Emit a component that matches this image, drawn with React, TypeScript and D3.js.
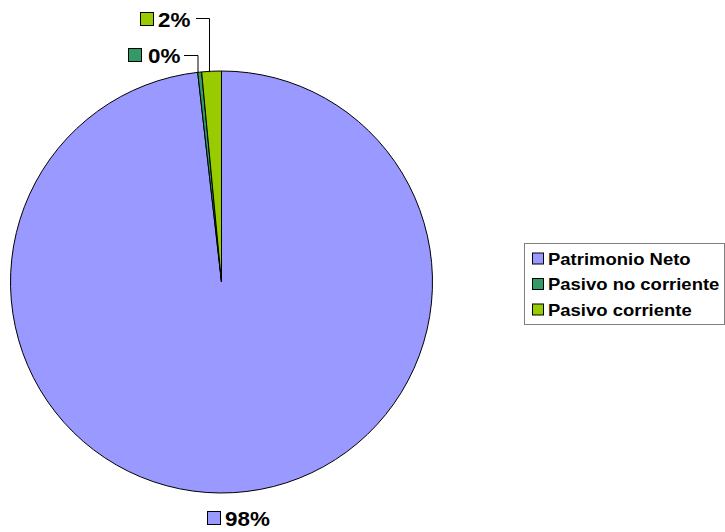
import React from 'react';
import * as d3 from 'd3';

const categories = ['Patrimonio Neto', 'Pasivo no corriente', 'Pasivo corriente'];
const values = [98.2, 0.3, 1.5];
const labels = ['98%', '0%', '2%'];
const colors = ['#9999FF', '#339966', '#99CC00'];

const W = 725;
const H = 532;
const cx = 221.5;
const cy = 282;
const R = 211;

// where each data label sits (swatch top-left), plus its leader line
const labelPos = [
  { x: 207, y: 511, gap: 4, line: null as null | number[][] },
  { x: 128, y: 48, gap: 6, line: [[184, 55.5], [198, 55.5]] },
  { x: 140, y: 12, gap: 4, line: [[196, 18.5], [209.5, 18.5]] },
];

const font = "Arial, 'Liberation Sans', sans-serif";

const App: React.FC = () => {
  const pie = d3.pie<number>().sort(null).value(d => d);
  const arcs = pie(values);
  const arc = d3.arc<d3.PieArcDatum<number>>().innerRadius(0).outerRadius(R);
  const edge = d3.arc<d3.PieArcDatum<number>>().innerRadius(R).outerRadius(R);

  return (
    <svg width={W} height={H} style={{ position: 'absolute', left: 0, top: 0 }}>
      <rect width={W} height={H} fill="#fff" />
      <g transform={`translate(${cx},${cy})`}>
        {arcs.map((a, i) => (
          <path key={i} d={arc(a) ?? ''} fill={colors[i]} stroke="#000" strokeWidth={1} />
        ))}
      </g>
      {arcs.map((a, i) => {
        const p = labelPos[i];
        const [, ey] = edge.centroid(a);
        const ln = p.line;
        return (
          <g key={i}>
            {ln && (
              <polyline
                points={`${ln[0][0]},${ln[0][1]} ${ln[1][0]},${ln[1][1]} ${ln[1][0]},${cy + ey + 1}`}
                fill="none" stroke="#000" strokeWidth={1}
              />
            )}
            <rect x={p.x + 0.5} y={p.y + 0.5} width={13} height={13} fill={colors[i]} stroke="#000" />
            <text transform={`translate(${p.x + 14 + p.gap},${p.y + 14.5}) scale(1.12,1)`}
              fontFamily={font} fontWeight="bold" fontSize={20} fill="#000">{labels[i]}</text>
          </g>
        );
      })}
      <rect x={524.5} y={243.5} width={200} height={81} fill="#fff" stroke="#808080" />
      {categories.map((c, i) => (
        <g key={c} transform={`translate(532,${258.5 + i * 25.5})`}>
          <rect x={0.5} y={-5.5} width={11} height={11} fill={colors[i]} stroke="#000" />
          <text transform="translate(16,6) scale(1.12,1)"
            fontFamily={font} fontWeight="bold" fontSize={16.5} fill="#000">{c}</text>
        </g>
      ))}
    </svg>
  );
};

export default App;
